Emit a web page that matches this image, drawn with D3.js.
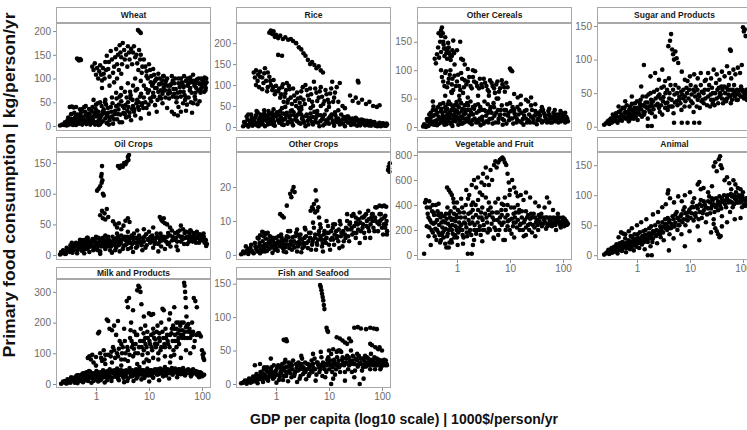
<!DOCTYPE html>
<html>
<head>
<meta charset="utf-8">
<script src="https://cdn.jsdelivr.net/npm/d3@7"></script>
<style>
  body { margin: 0; background: #fff; }
  svg { display: block; font-family: "Liberation Sans", Arial, sans-serif; }
</style>
</head>
<body>
<svg id="chart" width="747" height="430"></svg>
<script>
// Primary food consumption vs GDP per capita, one panel per food group

const facetNames = ["Wheat", "Rice", "Other Cereals", "Sugar and Products",
  "Oil Crops", "Other Crops", "Vegetable and Fruit", "Animal",
  "Milk and Products", "Fish and Seafood"];

// [gdp 1000$/person/yr, kg/person/yr]
const wheat = [[0.21,1],[0.23,3],[0.25,2],[0.27,5],[0.28,1],[0.3,7],[0.31,3],[0.33,10],[0.35,4],[0.36,12],[0.38,6],[0.4,15],[0.42,2],[0.44,9],[0.46,18],[0.48,5],[0.5,12],[0.53,20],[0.55,3],[0.58,14],[0.6,8],[0.63,22],[0.66,4],[0.7,16],[0.73,10],[0.76,25],[0.8,6],[0.84,18],[0.88,12],[0.92,28],[0.96,3],[1,20],[1.05,9],[1.1,30],[1.15,14],[1.2,4],[1.3,24],[1.35,10],[1.4,35],[1.5,16],[1.6,6],[1.7,28],[1.8,12],[1.9,40],[2,20],[2.1,5],[2.3,32],[2.5,14],[2.7,45],[2.9,24],[3.1,8],[3.4,38],[3.7,18],[4,50],[4.3,28],[4.6,12],[5,42],[5.5,22],[6,55],[6.5,34],[7,16],[7.5,48],[8,60],[9,38],[10,26],[11,52],[12,70],[13,44],[14,30],[16,62],[18,48],[20,75],[22,38],[24,58],[27,30],[30,68],[33,50],[36,40],[40,62],[44,48],[48,55],[52,45],[56,60],[62,50],[68,48],[75,56],[82,46],[90,52],
  [0.32,40],[0.35,41],[0.38,39],[0.42,40],[0.5,35],[0.6,40],
  [0.44,142],[0.46,140],[0.48,138],[0.5,141],[0.52,139],
  [0.85,125],[0.9,118],[0.95,132],[1,108],[1.05,122],[1.1,100],[1.15,115],[1.2,128],[1.3,96],[1.4,110],[1.5,135],[1.6,148],[1.7,120],[1.8,104],[1.9,158],[2,140],[2.2,125],[2.4,162],[2.6,150],[2.8,170],[3,145],[3.2,175],[3.4,160],[3.7,150],[4,168],[4.3,140],[4.6,162],[5,155],[5.5,145],[6,132],[6.5,160],[7,150],[7.5,125],[8,140],[9,115],[10,130],[11,105],[12,120],[13,95],[15,110],[17,90],[19,105],[22,100],[25,85],[28,95],[32,78],[36,90],[40,100],[45,82],[50,95],[55,88],[60,102],[66,92],[72,85],[80,98],[88,90],[96,100],[105,95],[115,88],[120,100],
  [6.2,202],[6.6,199],[7,196],
  [2,60],[2.4,70],[2.8,62],[3,80],[3.5,72],[4,90],[4.5,65],[5,85],[5.5,100],[6,78],[7,95],[8,85],[9,105],[10,75],[12,90],[14,80],[16,100],[18,68],[20,88],[24,75],[28,62],[35,70],[45,72],[60,80],[75,70],[95,78],[110,72],
  [30,25],[35,22],[40,30],[50,32],[65,28],[1.5,55],[1.2,50],[1,45],[0.9,55],[2.5,100],[3,110],[1.3,80],[1.8,85],[2.2,92],
  [0.26,8],[0.29,12],[0.34,15],[0.37,2],[0.41,20],[0.45,24],[0.47,13],[0.52,28],[0.56,16],[0.62,30],[0.68,12],[0.72,26],[0.78,3],[0.82,32],[0.9,20],[0.98,36],[1.05,26],[1.12,2],[1.22,18],[1.28,42],[1.45,28],[1.55,45],[1.65,20],[1.75,3],[1.95,30],[2.2,14],[2.4,42],[2.6,25],[2.8,8],[3,52],[3.3,28],[3.6,44],[3.9,32],[4.2,20],[4.5,58],[4.8,36],[5.2,30],[5.8,48],[6.2,40],[6.8,62],[7.3,44],[8.5,50],[9.5,70],[10.5,58],[11.5,85],[12.5,62],[13.5,98],[15,72],[17,58],[19,82],[21,95],[23,68],[26,88],[29,78],[31,100],[34,60],[38,82],[42,92],[47,65],[53,85],[58,92],[64,70],[70,95],[78,80],[85,75],[92,88],[100,82],[108,90],[118,80],[122,92],
  [1.25,108],[1.35,122],[1.45,100],[1.55,118],[1.75,135],[2.1,112],[2.3,145],[2.5,130],[2.7,118],[2.9,155],[3.1,130],[3.5,140],[3.9,125],[4.2,155],[4.8,130],[5.2,168],[5.8,150],[6.3,118],[6.8,140],[7.3,112],[8.5,125],[9.5,100],[10.5,118],[11.5,90],[12.5,108],[14,100],[16,88],[18,96],
  [0.3,18],[0.34,25],[0.39,28],[0.43,6],[0.49,22],[0.54,35],[0.57,10],[0.64,42],[0.69,20],[0.74,36],[0.79,15],[0.86,40],[0.94,8],[1.02,32],[1.08,48],[1.18,22],[1.26,8],[1.33,30],[1.48,50],[1.58,24],[1.68,38],[1.85,18],[2.05,48],[2.25,25],[2.45,58],[2.65,35],[2.95,65],[3.2,42],[3.5,25],[3.8,60],[4.1,40],[4.4,72],[4.9,55],[5.3,35],[5.6,75],[6.4,50],[7.1,68],[7.8,38],[8.8,78],[9.8,45],[10.8,92],[11.8,62],[13,80],[14.5,55],[15.5,88],[16.8,75],[18.5,105],[20.5,60],[22.5,85],[25,70],[27,105],[30,90],[32.5,60],[36,100],[39,72],[43,88],[46,105],[50,60],[54,100],[59,75],[63,95],[68,108],[73,62],[79,90],[86,100],[94,70],[102,96],[112,102],[116,75]];

const rice = [[0.24,2],[0.27,5],[0.3,1],[0.33,8],[0.36,3],[0.4,12],[0.44,4],[0.48,18],[0.52,6],[0.57,25],[0.62,2],[0.68,14],[0.74,30],[0.8,8],[0.88,20],[0.95,3],[1.05,35],[1.15,10],[1.25,22],[1.4,5],[1.55,28],[1.7,12],[1.9,38],[2.1,4],[2.3,18],[2.6,30],[2.9,8],[3.2,24],[3.6,2],[4,15],[4.5,32],[5,6],[5.6,20],[6.2,10],[7,28],[7.8,4],[8.8,16],[10,8],[11,22],[12.5,3],[14,12],[16,6],[18,18],[20,2],[23,10],[26,5],[30,14],[34,3],[38,8],[43,12],[48,4],[55,9],[62,3],[70,7],[80,5],[90,10],[100,4],[110,6],[120,3],
  [0.3,30],[0.45,35],[0.6,40],[0.9,42],[1.3,45],[2,40],[3,42],[4.5,45],[6,38],[9,40],[13,35],[17,30],[22,25],[28,20],[35,18],[45,16],[60,14],
  [0.75,225],[0.8,230],[0.85,222],[0.9,228],[0.95,215],[1,220],[1.1,212],[1.2,218],[1.35,210],[1.5,214],[1.7,208],[1.9,210],[2.1,205],[2.4,200],[2.7,190],[3,185],[3.3,176],[3.6,170],[4,160],[4.4,150],[4.8,155],[5.3,148],[5.8,140],[6.4,145],[7,135],[7.7,130],[1.1,172],[1.3,170],
  [0.38,130],[0.42,135],[0.46,125],[0.5,132],[0.55,118],[0.6,128],[0.65,110],[0.7,95],[0.75,120],[0.8,100],[0.85,88],[0.9,112],[0.95,78],[1,98],[0.42,100],[0.48,95],[0.55,90],
  [1.1,85],[1.2,70],[1.3,95],[1.4,60],[1.5,80],[1.6,105],[1.7,65],[1.8,90],[2,55],[2.2,75],[2.4,50],[2.6,68],[2.8,58],[3,85],[3.3,65],[3.6,100],[4,75],[4.4,92],[4.8,60],[5.2,108],[5.8,82],[6.4,70],[7,95],[7.8,55],[8.6,88],[9.5,65],[10.5,80],[11.5,108],[12.5,70],[14,95],[15,60],[16,105],[18,50],[35,110],[36,106],[25,75],[28,62],[32,70],[36,58],[42,65],[50,55],[58,60],[68,50],[80,48],[90,52],[20,45],[15,40],[10,48],[7,50],[3,48],[1.5,48],
  [0.26,10],[0.29,18],[0.32,14],[0.35,22],[0.38,6],[0.42,28],[0.46,10],[0.5,22],[0.55,14],[0.6,32],[0.65,18],[0.7,6],[0.77,20],[0.84,34],[0.92,12],[1,26],[1.1,16],[1.2,38],[1.3,6],[1.45,18],[1.6,34],[1.8,22],[2,10],[2.2,28],[2.5,14],[2.8,36],[3.1,20],[3.4,10],[3.8,30],[4.2,22],[4.8,12],[5.3,36],[5.9,26],[6.6,2],[7.4,18],[8.3,30],[9.4,10],[10.5,25],[11.8,15],[13.2,28],[15,20],[17,10],[19,24],[21.5,14],[24.5,20],[28,8],[32,22],[36,12],[41,18],[46,8],[52,15],[58,6],[66,12],[75,3],[85,8],[95,2],[105,9],[115,5],[122,8],
  [1.15,92],[1.25,78],[1.35,102],[1.45,72],[1.55,88],[1.65,58],[1.75,98],[1.9,70],[2.1,92],[2.3,62],[2.5,82],[2.7,45],[2.9,70],[3.2,95],[3.5,55],[3.8,88],[4.2,65],[4.6,78],[5,50],[5.5,92],[6,62],[6.7,85],[7.4,72],[8.2,62],[9,78],[10,58],[11,92],[12,60],[13,82],[0.4,118],[0.45,110],[0.5,120],[0.58,105],[0.62,140],[0.7,130],[0.68,85],[0.78,110],[0.88,95],[0.98,85],
  [0.25,12],[0.28,25],[0.31,5],[0.34,30],[0.37,15],[0.41,22],[0.43,38],[0.47,2],[0.51,30],[0.56,8],[0.59,18],[0.64,28],[0.69,22],[0.72,38],[0.79,14],[0.86,26],[0.9,5],[0.97,30],[1.08,18],[1.17,28],[1.28,14],[1.36,32],[1.5,20],[1.65,8],[1.85,28],[1.95,16],[2.15,35],[2.4,24],[2.7,10],[3,30],[3.3,15],[3.7,26],[4.1,6],[4.4,20],[5,24],[5.5,12],[6.1,30],[6.9,14],[7.7,24],[8.5,8],[9.8,20],[11.2,30],[12,10],[13.8,20],[16,14],[18.5,8],[20.5,18],[23,25],[26.5,12],[30.5,6],[34,16],[39,4],[44,10],[50,14],[56,4],[64,8],[72,12],[82,2],[92,6],[102,8],[112,3],[125,6]];

const otherCereals = [[0.23,1],[0.26,0],[0.29,2],[0.3,15],[0.32,25],[0.34,5],[0.36,20],[0.38,10],[0.4,30],[0.42,3],[0.45,18],[0.48,40],[0.5,8],[0.53,25],[0.56,12],[0.6,35],[0.63,5],[0.66,22],[0.7,45],[0.74,15],[0.78,30],[0.82,2],[0.86,20],[0.9,38],[0.95,10],[1,28],[1.06,4],[1.12,48],[1.2,18],[1.28,32],[1.36,8],[1.45,24],[1.55,42],[1.65,14],[1.75,30],[1.9,5],[2,22],[2.2,38],[2.4,12],[2.6,28],[2.8,3],[3,18],[3.3,45],[3.6,10],[3.9,25],[4.3,35],[4.7,6],[5.1,20],[5.6,50],[6.1,14],[6.7,30],[7.3,4],[8,22],[8.8,40],[9.6,12],[10.5,28],[11.5,6],[12.6,18],[13.8,35],[15,10],[16.5,25],[18,4],[20,15],[22,45],[24,8],[26,30],[29,20],[32,5],[35,25],[38,12],[42,30],[46,18],[50,8],[55,22],[60,15],[66,25],[72,10],[80,20],[88,14],[96,24],[105,12],[115,18],[124,10],
  [0.38,120],[0.4,112],[0.42,128],[0.44,140],[0.46,122],[0.48,150],[0.5,132],[0.52,175],[0.54,165],[0.56,145],[0.58,125],[0.6,158],[0.62,138],[0.65,120],[0.68,148],[0.72,130],[0.76,118],[0.8,125],[0.85,152],[0.9,110],[1,135],[1.15,150],[1.2,120],[1.3,118],[1.4,110],[0.45,165],[0.5,170],
  [0.5,100],[0.55,80],[0.6,95],[0.65,70],[0.7,85],[0.75,100],[0.8,75],[0.85,65],[0.9,90],[1,80],[1.1,72],[1.2,95],[1.3,60],[1.4,82],[1.5,75],[1.7,88],[1.9,68],[2.1,80],[2.4,72],[2.7,85],[3,70],[3.4,78],[3.8,65],[4.2,82],[4.7,72],[5.2,60],[5.8,80],[6.5,68],[7.2,75],[8,62],[9,70],[10,103],[10.5,100],[11,98],[12,58],[14,52],[16,55],[1.6,102],[2,100],[2.2,98],[1.1,55],[1.6,52],[2.5,55],[4,55],[6,50],[20,48],[25,52],[30,40],[40,35],[55,32],[70,30],[90,28],[110,25],[0.35,45],[0.6,55],[0.8,60],
  [0.25,3],[0.28,10],[0.31,6],[0.33,18],[0.35,30],[0.37,4],[0.39,22],[0.41,12],[0.44,35],[0.46,6],[0.5,28],[0.52,15],[0.55,42],[0.58,4],[0.62,18],[0.65,32],[0.68,10],[0.72,26],[0.76,40],[0.8,8],[0.84,30],[0.88,14],[0.93,25],[0.98,44],[1.03,16],[1.09,35],[1.15,6],[1.23,28],[1.32,15],[1.4,38],[1.5,10],[1.6,30],[1.7,20],[1.8,45],[1.95,12],[2.1,32],[2.3,8],[2.5,40],[2.7,15],[2.9,30],[3.2,6],[3.5,28],[3.8,40],[4.1,14],[4.5,25],[4.9,42],[5.3,8],[5.9,30],[6.4,20],[7,38],[7.7,12],[8.4,30],[9.2,20],[10,42],[11,15],[12,30],[13.2,8],[14.5,22],[16,40],[17.5,14],[19,28],[21,8],[23,22],[25,38],[27.5,14],[30,28],[33,12],[37,20],[40,8],[44,24],[48,14],[53,28],[58,8],[63,18],[70,20],[76,14],[84,22],[92,10],[100,18],[110,8],[120,15],
  [0.52,88],[0.58,72],[0.62,98],[0.68,78],[0.73,92],[0.78,62],[0.82,85],[0.95,72],[1.05,92],[1.15,65],[1.25,85],[1.35,70],[1.6,80],[1.8,72],[2,88],[2.3,78],[2.6,68],[2.9,75],[3.2,85],[3.6,72],[4,62],[4.5,78],[5,68],[5.5,75],[6.2,62],[7,82],[7.8,70],[8.5,78],[0.5,160],[0.55,150],[0.57,138],[0.63,130],[0.66,135],[0.7,140],[0.75,125],[0.82,135],[0.88,130],
  [0.24,5],[0.27,14],[0.3,22],[0.33,10],[0.36,36],[0.4,8],[0.43,25],[0.47,14],[0.51,32],[0.54,20],[0.57,8],[0.61,28],[0.64,15],[0.67,40],[0.71,20],[0.75,6],[0.79,22],[0.83,36],[0.87,12],[0.92,30],[0.97,18],[1.02,38],[1.08,24],[1.14,12],[1.2,42],[1.26,6],[1.34,22],[1.43,30],[1.52,15],[1.62,38],[1.72,8],[1.85,25],[2,35],[2.15,15],[2.35,25],[2.55,8],[2.75,35],[3,12],[3.25,30],[3.55,20],[3.9,8],[4.2,30],[4.6,15],[5,35],[5.5,25],[6,8],[6.6,22],[7.2,14],[7.9,30],[8.6,6],[9.4,25],[10.2,15],[11.2,35],[12.2,24],[13.5,14],[15,30],[16.5,8],[18.5,20],[20.5,30],[22.5,12],[25,18],[28,8],[31,22],[34,15],[38,28],[42,10],[47,20],[52,12],[57,18],[62,8],[68,14],[75,22],[82,8],[90,16],[98,12],[108,20],[118,12]];

const sugar = [[0.24,3],[0.26,5],[0.28,8],[0.3,4],[0.32,12],[0.34,7],[0.36,15],[0.38,10],[0.4,20],[0.43,6],[0.46,14],[0.49,24],[0.52,9],[0.55,18],[0.58,28],[0.62,12],[0.66,22],[0.7,8],[0.74,30],[0.78,16],[0.82,25],[0.87,12],[0.92,35],[0.97,20],[1.03,10],[1.1,28],[1.17,40],[1.24,15],[1.32,32],[1.4,22],[1.5,45],[1.6,12],[1.7,30],[1.8,50],[1.9,20],[2,38],[2.2,15],[2.4,55],[2.6,28],[2.8,42],[3,18],[3.2,60],[3.5,35],[3.8,25],[4.1,50],[4.5,40],[4.9,20],[5.3,62],[5.8,32],[6.3,45],[6.9,25],[7.5,55],[8.2,38],[9,68],[9.8,30],[10.7,48],[11.7,22],[12.8,60],[14,40],[15.3,28],[16.7,52],[18.2,35],[20,70],[22,45],[24,30],[26,58],[28,40],[31,65],[34,35],[37,50],[40,42],[44,60],[48,38],[52,55],[57,45],[62,40],[68,62],[74,48],[80,40],[88,55],[96,45],[105,42],[115,50],
  [1.35,92],[1.8,75],[2.2,80],[2.6,70],[3,85],[3.4,68],[3.9,120],[4.2,128],[4.4,138],[4.6,115],[4.8,108],[5,100],[5.3,112],[5.6,102],[6,95],[4,72],[7,82],[8,70],[10,75],[12,78],[14,72],[16,80],[19,68],[22,80],[25,72],[28,85],[32,78],[36,70],[40,82],[45,75],[50,90],[55,80],[60,72],[66,85],[72,78],[80,88],[88,80],[95,92],[57,115],[59,113],[100,148],[104,142],[108,145],[112,135],[1.2,60],[0.8,45],[0.6,38],[0.45,30],
  [1.6,1],[1.9,1],[5,6],[7,6],[9,6],[12,6],[15,6],
  [0.3,10],[0.33,6],[0.35,18],[0.39,14],[0.42,8],[0.45,22],[0.48,12],[0.51,18],[0.54,28],[0.57,14],[0.6,22],[0.64,32],[0.68,16],[0.72,26],[0.76,12],[0.8,34],[0.85,20],[0.9,28],[0.95,15],[1,38],[1.07,22],[1.14,34],[1.2,26],[1.28,45],[1.36,18],[1.45,36],[1.55,28],[1.65,48],[1.75,22],[1.85,40],[1.95,30],[2.1,52],[2.3,32],[2.5,45],[2.7,22],[2.9,58],[3.1,38],[3.4,28],[3.7,55],[4,30],[4.3,62],[4.7,30],[5.1,48],[5.6,38],[6.1,58],[6.6,35],[7.2,48],[7.9,30],[8.6,58],[9.4,42],[10.3,62],[11.2,35],[12.2,52],[13.4,30],[14.6,48],[16,62],[17.4,40],[19,55],[21,32],[23,62],[25,40],[27,50],[29,32],[33,55],[36,45],[39,60],[42,35],[46,50],[50,42],[54,62],[59,35],[64,55],[70,45],[77,55],[84,48],[92,60],[100,52],[110,45],[118,40],
  [0.36,8],[0.41,16],[0.47,10],[0.53,14],[0.59,20],[0.65,14],[0.71,20],[0.77,24],[0.83,16],[0.89,26],[0.94,22],[1.02,28],[1.12,18],[1.22,32],[1.32,22],[1.42,30],[1.58,36],[1.72,24],[1.88,34],[2.05,26],[2.25,42],[2.45,34],[2.65,48],[2.85,32],[3.15,44],[3.45,50],[3.75,36],[4.05,42],[4.4,30],[4.8,55],[5.2,36],[5.7,50],[6.2,40],[6.8,52],[7.4,42],[8,45],[8.8,50],[9.6,55],[10.5,38],[11.5,55],[12.5,45],[13.8,55],[15,45],[16.5,38],[18,50],[19.5,42],[22,55],[24.5,48],[27,35],[30,50],[32,42],[35,58],[38,48],[41,55],[45,40],[49,58],[53,48],[58,55],[63,48],[69,52],[75,40],[82,50],[90,45],[98,55],[108,48],[116,55]];

const oilCrops = [[0.21,1],[0.23,3],[0.25,6],[0.27,2],[0.3,10],[0.32,5],[0.35,14],[0.38,8],[0.41,18],[0.44,3],[0.47,12],[0.5,22],[0.54,7],[0.58,16],[0.62,25],[0.66,10],[0.7,20],[0.75,5],[0.8,14],[0.86,26],[0.92,9],[0.98,18],[1.05,12],[1.12,28],[1.2,6],[1.3,16],[1.4,24],[1.5,10],[1.6,20],[1.7,30],[1.85,8],[2,18],[2.2,26],[2.4,12],[2.6,22],[2.8,6],[3,32],[3.3,15],[3.6,24],[4,10],[4.4,28],[4.8,18],[5.2,35],[5.7,12],[6.2,26],[6.8,20],[7.5,8],[8.2,30],[9,16],[10,38],[11,22],[12,12],[13.5,28],[15,18],[16.5,35],[18,24],[20,10],[22,30],[24,20],[27,40],[30,25],[33,14],[36,32],[40,22],[44,42],[48,28],[53,18],[58,35],[64,25],[70,30],[77,20],[85,32],[93,24],[102,30],[112,20],[120,15],
  [0.35,20],[0.5,25],[0.7,28],[1,30],[1.5,32],[2.5,35],[4,38],[6,40],[8,42],[12,45],[25,45],[40,48],[60,40],[80,38],[100,32],[0.6,3],[1.2,2],[2,4],[5,5],[15,6],[35,8],
  [1.05,105],[1.12,108],[1.2,112],[1.25,128],[1.28,132],[1.3,145],[1.32,122],[1.35,100],[1.4,97],[1.28,118],
  [2.6,145],[2.8,142],[3,146],[3.2,144],[3.4,150],[3.6,148],[3.8,152],[4,160],[4.2,163],[4.1,155],
  [1.2,65],[1.3,72],[1.35,60],[1.45,68],[1.5,58],[1.6,75],[1.7,62],
  [2.1,55],[2.3,50],[2.5,45],[2.7,52],[3,42],[3.3,48],[3.6,56],[4,60],[4.3,54],
  [16,62],[17,58],[18,55],[19,60],[20,52],[22,50],
  [0.22,5],[0.24,8],[0.26,2],[0.28,12],[0.31,7],[0.33,16],[0.36,4],[0.39,12],[0.42,20],[0.45,8],[0.48,16],[0.52,12],[0.56,24],[0.6,10],[0.64,18],[0.68,28],[0.72,12],[0.77,22],[0.83,16],[0.89,8],[0.95,22],[1.01,16],[1.08,8],[1.16,22],[1.25,14],[1.35,28],[1.45,18],[1.55,26],[1.65,14],[1.78,24],[1.92,14],[2.1,22],[2.3,8],[2.5,28],[2.7,16],[2.9,25],[3.2,10],[3.5,30],[3.8,18],[4.2,24],[4.6,12],[5,28],[5.5,20],[6,14],[6.5,32],[7.1,22],[7.8,28],[8.6,12],[9.5,25],[10.5,20],[11.5,32],[12.8,18],[14,35],[15.5,28],[17,14],[19,30],[21,22],[23,36],[25.5,14],[28,30],[31,36],[34,22],[38,40],[42,30],[46,18],[50,38],[55,28],[61,40],[67,22],[73,35],[80,28],[88,20],[97,26],[107,35],[116,25],[124,18],
  [0.29,8],[0.34,10],[0.4,15],[0.46,18],[0.51,15],[0.57,20],[0.63,14],[0.69,24],[0.74,16],[0.81,20],[0.88,14],[0.96,26],[1.04,20],[1.14,16],[1.22,26],[1.32,20],[1.42,14],[1.52,22],[1.62,28],[1.74,18],[1.88,22],[2.05,30],[2.25,16],[2.45,20],[2.65,30],[2.95,20],[3.25,26],[3.55,16],[3.9,30],[4.3,20],[4.7,32],[5.1,22],[5.6,28],[6.1,20],[6.7,28],[7.3,16],[8,22],[8.8,34],[9.7,26],[10.7,30],[11.8,26],[13,22],[14.5,30],[16,22],[17.5,30],[20,28],[22.5,18],[25,32],[27.5,24],[32,28],[35,38],[39,30],[43,26],[47,36],[52,30],[57,22],[63,30],[69,36],[75,26],[83,28],[91,34],[100,24],[108,30],[118,24]];

const otherCrops = [[0.22,0.2],[0.25,0.5],[0.28,1.2],[0.3,0.3],[0.33,2],[0.36,0.8],[0.4,3.5],[0.43,1.5],[0.47,4.8],[0.5,0.5],[0.54,2.5],[0.58,5.5],[0.62,1],[0.66,3.2],[0.7,6.5],[0.75,1.8],[0.8,4],[0.86,0.6],[0.92,2.8],[1,5],[1.08,1.2],[1.16,3.5],[1.25,6],[1.35,2],[1.45,4.5],[1.55,0.8],[1.7,3],[1.85,7],[2,1.5],[2.2,4],[2.4,6.5],[2.6,2.5],[2.8,5],[3,0.8],[3.3,3.5],[3.6,7.5],[4,2],[4.4,5],[4.8,3],[5.2,8],[5.7,1.5],[6.2,4.5],[6.8,9],[7.4,2.5],[8,6],[8.8,3.5],[9.6,8.5],[10.5,1.5],[11.5,5],[12.5,3],[13.7,7],[15,4],[16.5,9],[18,2.5],[20,6],[22,10],[24,4],[26,7.5],[29,12],[32,5],[35,9],[38,3.5],[42,11],[46,6.5],[50,12],[55,8],[60,5],[66,10],[72,7],[80,14],[88,9],[95,12],[105,6],[115,8],[125,7],
  [0.55,6.8],[0.6,6.5],[0.65,6.2],[0.5,5.8],[0.45,5],[1.7,7],[2.5,7.5],[3.5,8],[5,9.5],[7,8],[9,10],[12,9],[16,10],[22,12],[27,11.5],[32,11],[38,12.5],[45,11],[55,13],[65,12],[75,14],[90,14.5],[100,14.3],[110,14.5],[120,14.2],
  [1.85,18],[1.95,17],[2.05,19],[2.15,20],[2.25,18.5],[1.6,14.5],[1.3,11.5],[1.4,11],[1.2,12],
  [4.5,13],[4.8,14],[5,13.5],[5.2,15],[5.5,12.5],[5.8,16],[6,13],[6.3,14],[5.6,19],[6.5,11],
  [130,25],[134,26],[138,24.5],[140,27],[136,25.5],
  [0.24,1],[0.27,2.5],[0.31,1],[0.34,3],[0.38,0.5],[0.41,2.5],[0.45,1],[0.49,3.5],[0.52,1.5],[0.56,4],[0.6,2],[0.64,4.8],[0.68,1.2],[0.72,3.5],[0.77,5.5],[0.83,2.2],[0.89,4.5],[0.95,1.5],[1.04,3.2],[1.12,5.5],[1.2,2.5],[1.3,4],[1.4,1],[1.5,3],[1.6,5.5],[1.78,2],[1.92,4],[2.1,2.8],[2.3,5.5],[2.5,1],[2.7,3.8],[2.9,6],[3.15,2],[3.45,5],[3.8,3.5],[4.2,6.5],[4.6,1.5],[5,4.5],[5.5,6],[6,3],[6.5,7],[7.1,4.5],[7.7,1],[8.4,4.5],[9.2,6.5],[10,3],[11,7],[12,4.5],[13,9],[14.3,5.5],[15.7,2],[17.2,6.5],[19,4],[21,8],[23,5.5],[25,9.5],[27.5,6],[30,8.5],[33,6.5],[36,10.5],[40,7],[44,9],[48,5],[52,10],[57,7],[63,11],[69,8],[76,10],[84,7],[92,10],[100,8],[110,11],[118,9],[124,6],
  [0.3,1.8],[0.35,1.2],[0.42,2],[0.48,2.5],[0.55,1],[0.61,3],[0.67,2.5],[0.73,4.5],[0.79,3],[0.87,5],[0.93,3.5],[1.02,2],[1.1,4],[1.18,2.8],[1.28,5],[1.38,3.2],[1.48,2.2],[1.58,4.2],[1.72,5.2],[1.88,3],[2.05,5.2],[2.25,2.2],[2.45,3.5],[2.65,5.8],[2.85,3.2],[3.1,4.5],[3.4,2.5],[3.7,5.5],[4.1,4],[4.5,6.5],[4.9,3.8],[5.4,5],[5.9,3.5],[6.4,6],[7,5.5],[7.6,3.5],[8.2,7],[9,5],[9.9,6.5],[10.8,4.5],[11.8,8],[12.8,6],[14,5],[15.3,7.5],[16.8,5.5],[18.5,7],[20.5,5],[22.5,7.5],[24.5,9],[27,8],[29.5,6.5],[32.5,9.5],[35.5,7.5],[39,9.5],[43,8],[47,11.5],[51,8.5],[56,10.5],[61,9],[67,12],[74,11],[82,9.5],[90,12],[98,10.5],[108,9],[116,11.5],[122,10]];

const vegFruit = [[0.24,10],[0.25,420],[0.27,380],[0.29,300],[0.3,220],[0.32,80],[0.34,350],[0.36,250],[0.38,150],[0.4,400],[0.42,280],[0.45,180],[0.48,100],[0.5,330],[0.53,220],[0.56,140],[0.6,260],[0.63,60],[0.66,380],[0.7,200],[0.74,300],[0.78,120],[0.82,240],[0.87,420],[0.92,160],[0.97,320],[1.03,80],[1.1,260],[1.17,200],[1.25,380],[1.33,140],[1.42,300],[1.5,220],[1.6,10],[1.62,450],[1.7,180],[1.8,340],[1.9,10],[1.95,260],[2.1,120],[2.25,400],[2.4,200],[2.6,300],[2.8,160],[3,380],[3.2,240],[3.5,460],[3.8,180],[4.1,320],[4.5,250],[4.9,140],[5.3,420],[5.8,280],[6.3,200],[6.9,360],[7.5,120],[8.2,300],[9,230],[9.8,480],[10.7,170],[11.7,330],[12.8,260],[14,400],[15.3,200],[16.7,300],[18.2,150],[20,350],[22,240],[24,290],[26,180],[28,330],[31,260],[34,200],[37,300],[40,230],[44,280],[48,210],[52,250],[57,300],[62,230],[68,260],[74,200],[80,280],[88,240],[96,270],[105,230],[115,260],[124,250],
  [0.7,520],[0.75,500],[0.8,480],[0.85,450],[0.65,540],
  [1.5,520],[1.7,480],[1.9,560],[2.1,600],[2.3,540],[2.5,620],[2.7,500],[2.9,580],[3.1,650],[3.3,560],[3.5,700],[3.7,620],[4,560],[4.3,680],[4.6,600],[5,720],[5.3,750],[5.6,700],[6,740],[6.4,760],[6.8,770],[7.2,780],[7.6,765],[8,740],[8.5,720],[9,650],[9.5,580],[10,520],[11,600],[12,540],[13,500],[14,470],[16,480],[18,440],[20,500],[24,460],[30,420],[35,390],[45,380],[50,460],[55,420],[65,360],[80,330],[100,300],[110,280],
  [0.26,440],[0.3,430],[0.35,400],[0.45,410],[0.9,380],[1,420],[1.2,450],[2,420],[2.5,440],[3,480],[4,420],[6,450],[7,410],[8,460],[9,400],[12,380],[15,360],[0.5,120],[0.6,90],[0.7,60],[0.8,100],[1,140],[1.3,90],[2,80],[3,110],[5,130],[8,120],[12,140],[20,160],[30,150],
  [0.27,230],[0.29,150],[0.31,380],[0.33,260],[0.35,180],[0.37,320],[0.39,210],[0.41,120],[0.43,350],[0.46,240],[0.49,300],[0.52,160],[0.55,270],[0.58,200],[0.62,330],[0.65,150],[0.68,250],[0.72,100],[0.76,350],[0.8,200],[0.84,290],[0.89,140],[0.94,230],[1,300],[1.06,180],[1.13,340],[1.2,240],[1.28,160],[1.37,260],[1.46,400],[1.55,150],[1.66,280],[1.77,200],[1.88,400],[2,300],[2.15,240],[2.3,170],[2.5,360],[2.7,230],[2.9,300],[3.1,200],[3.4,330],[3.7,260],[4,210],[4.3,380],[4.7,300],[5.1,220],[5.5,340],[6,160],[6.5,300],[7,240],[7.6,400],[8.3,200],[9,320],[9.8,280],[10.5,380],[11.4,230],[12.4,300],[13.5,220],[14.7,340],[16,250],[17.5,200],[19,280],[21,300],[23,200],[25,330],[27,240],[30,300],[33,240],[36,270],[39,330],[43,250],[47,300],[51,230],[56,280],[61,260],[66,300],[72,240],[78,260],[85,300],[92,250],[100,280],[108,260],[118,240],
  [0.28,330],[0.31,280],[0.33,200],[0.36,340],[0.39,260],[0.42,200],[0.44,320],[0.47,160],[0.51,260],[0.54,180],[0.57,310],[0.61,210],[0.64,290],[0.67,170],[0.71,330],[0.75,230],[0.79,280],[0.83,170],[0.88,330],[0.93,270],[0.98,200],[1.04,360],[1.11,220],[1.18,300],[1.26,200],[1.35,340],[1.44,250],[1.53,180],[1.64,330],[1.75,250],[1.86,160],[1.98,360],[2.12,200],[2.28,320],[2.45,260],[2.62,200],[2.85,340],[3.05,280],[3.3,200],[3.6,300],[3.9,360],[4.2,200],[4.6,340],[5,280],[5.4,200],[5.9,340],[6.4,260],[7,320],[7.6,260],[8.3,360],[9.1,270],[9.9,200],[10.8,290],[11.8,260],[12.9,340],[14.1,280],[15.4,240],[16.8,350],[18.3,260],[20,220],[22,320],[24,250],[26,300],[29,220],[32,280],[35,320],[38,250],[42,300],[46,260],[50,300],[55,240],[60,290],[65,240],[71,280],[77,300],[84,260],[91,220],[99,260],[107,290],[116,270]];

const animal = [[0.24,1],[0.26,3],[0.28,6],[0.3,2],[0.32,8],[0.34,4],[0.36,11],[0.38,6],[0.4,14],[0.43,3],[0.46,9],[0.49,17],[0.52,7],[0.55,12],[0.58,20],[0.62,5],[0.66,15],[0.7,25],[0.74,10],[0.78,18],[0.82,30],[0.87,8],[0.92,22],[0.97,14],[1.03,35],[1.1,12],[1.17,26],[1.24,18],[1.32,40],[1.4,10],[1.5,30],[1.6,22],[1.7,45],[1.8,15],[1.9,35],[2,28],[2.2,50],[2.4,20],[2.6,40],[2.8,30],[3,55],[3.2,25],[3.5,45],[3.8,62],[4.1,35],[4.5,52],[4.9,28],[5.3,68],[5.8,42],[6.3,58],[6.9,35],[7.5,75],[8.2,50],[9,65],[9.8,40],[10.7,80],[11.7,58],[12.8,70],[14,48],[15.3,85],[16.7,62],[18.2,75],[20,55],[22,90],[24,70],[26,82],[28,60],[31,95],[34,75],[37,88],[40,65],[44,100],[48,80],[52,92],[57,72],[62,98],[68,85],[74,105],[80,88],[88,95],[96,80],[105,92],[115,85],
  [0.45,30],[0.5,38],[0.55,36],[0.6,35],[0.7,40],[0.8,45],[1,50],[1.2,55],[1.5,60],[2,68],[2.5,72],[3,80],[3.5,85],[3.8,103],[3.9,108],[4.2,95],[5,88],[6,98],[7,90],[8,100],[10,105],[12,95],[14,118],[15,122],[16,110],[18,112],[22,105],[26,115],[28,148],[30,155],[32,140],[35,160],[37,165],[38,150],[40,145],[45,125],[50,130],[55,120],[60,110],[66,125],[72,118],[80,112],[90,110],[100,105],
  [30,45],[32,40],[34,35],[36,30],[38,32],[40,48],[28,52],[1.6,0],[1.9,0],[4,8],[8,15],[15,25],[25,38],[50,55],[70,60],[90,62],
  [0.27,4],[0.29,9],[0.31,5],[0.33,12],[0.35,7],[0.37,14],[0.39,9],[0.41,18],[0.44,10],[0.47,20],[0.5,12],[0.53,22],[0.56,16],[0.6,28],[0.64,12],[0.68,22],[0.72,18],[0.76,32],[0.8,14],[0.85,25],[0.9,35],[0.95,18],[1,28],[1.06,20],[1.13,38],[1.2,24],[1.28,32],[1.36,22],[1.45,42],[1.55,26],[1.65,36],[1.75,28],[1.85,48],[1.95,22],[2.1,40],[2.3,32],[2.5,55],[2.7,35],[2.9,45],[3.1,38],[3.4,60],[3.7,42],[4,55],[4.3,45],[4.7,65],[5.1,48],[5.6,72],[6.1,50],[6.6,65],[7.2,55],[7.9,80],[8.6,60],[9.4,72],[10.3,62],[11.2,88],[12.2,68],[13.4,82],[14.6,60],[16,92],[17.4,70],[19,85],[21,68],[23,98],[25,78],[27,92],[29,72],[33,85],[36,98],[39,78],[42,90],[46,85],[50,98],[54,88],[59,102],[64,80],[70,95],[77,88],[84,100],[92,90],[100,95],[110,82],[118,92],
  [0.29,4],[0.33,6],[0.37,9],[0.41,8],[0.45,14],[0.49,10],[0.54,16],[0.59,14],[0.64,20],[0.69,16],[0.75,22],[0.81,20],[0.86,18],[0.93,26],[0.99,22],[1.07,28],[1.15,24],[1.23,30],[1.32,26],[1.42,34],[1.52,28],[1.62,32],[1.73,36],[1.85,30],[2,40],[2.15,36],[2.35,42],[2.55,36],[2.75,48],[2.95,40],[3.2,48],[3.5,52],[3.8,48],[4.1,58],[4.5,46],[4.9,60],[5.3,54],[5.8,62],[6.3,50],[6.9,68],[7.5,60],[8.2,70],[9,58],[9.8,76],[10.7,70],[11.7,80],[12.8,64],[14,78],[15.3,72],[16.7,82],[18.2,90],[20,80],[22,78],[24,88],[26,95],[28,85],[31,80],[34,90],[37,82],[40,95],[44,88],[48,92],[52,100],[57,90],[62,88],[68,100],[74,92],[80,98],[88,88],[96,100],[105,85],[115,95]];

const milk = [[0.22,1],[0.25,5],[0.28,2],[0.3,12],[0.33,4],[0.36,18],[0.39,8],[0.42,25],[0.45,3],[0.49,15],[0.53,30],[0.57,6],[0.61,20],[0.66,38],[0.71,10],[0.76,26],[0.82,4],[0.88,35],[0.95,14],[1.02,42],[1.1,8],[1.18,28],[1.27,18],[1.36,45],[1.46,5],[1.57,32],[1.69,20],[1.82,48],[1.96,10],[2.1,36],[2.3,24],[2.5,50],[2.7,12],[2.9,40],[3.1,28],[3.4,6],[3.7,45],[4,18],[4.3,52],[4.7,32],[5.1,10],[5.6,42],[6.1,24],[6.6,55],[7.2,15],[7.8,38],[8.5,28],[9.3,50],[10.1,8],[11,35],[12,20],[13,48],[14.2,30],[15.5,12],[17,42],[18.5,25],[20,55],[22,35],[24,18],[26,45],[28,30],[31,50],[34,22],[37,40],[40,32],[44,52],[48,28],[52,45],[57,35],[62,25],[68,48],[74,38],[80,30],[88,22],[96,32],[105,28],
  [0.7,85],[0.75,90],[0.8,80],[0.85,95],[0.9,70],[1,88],[1.1,165],[1.15,170],[1.2,100],[1.3,75],[1.4,110],[1.5,95],[1.6,210],[1.7,205],[1.8,180],[1.9,90],[2,175],[2.1,120],[2.2,190],[2.4,160],[2.5,100],[2.6,205],[2.8,140],[3,80],[3.2,120],[3.4,180],[3.6,100],[3.8,270],[4,250],[4.2,280],[4.4,150],[4.6,200],[4.8,120],[5,90],[5.3,170],[5.6,130],[6,305],[6.3,320],[6.6,315],[6.9,300],[7.2,260],[7.5,140],[8,110],[8.5,190],[9,80],[9.5,150],[10,230],[11,225],[12,228],[13,130],[14,170],[15,100],[16,140],[17,200],[18,245],[19,240],[20,120],[22,160],[24,210],[25,230],[26,90],[28,140],[30,180],[33,120],[36,200],[40,160],[43,175],[46,330],[47,320],[48,300],[49,280],[50,250],[51,220],[52,190],[55,170],[60,150],[65,200],[70,280],[75,270],[80,250],[85,165],[90,160],[95,155],[100,110],[103,95],[106,85],[108,100],[110,78],
  [1,60],[1.5,65],[2,70],[3,60],[4,75],[6,65],[8,70],[10,75],[12,85],[15,80],[20,90],[25,70],[30,95],[40,85],[50,110],[60,100],[70,120],[5,240],[8,220],[12,180],[30,250],[35,140],
  [0.24,8],[0.27,3],[0.29,15],[0.32,8],[0.34,22],[0.37,12],[0.4,4],[0.43,18],[0.47,28],[0.51,10],[0.55,22],[0.59,35],[0.63,12],[0.68,28],[0.73,18],[0.78,40],[0.84,20],[0.9,10],[0.97,30],[1.05,22],[1.13,38],[1.22,12],[1.31,30],[1.41,22],[1.52,40],[1.63,12],[1.75,28],[1.88,38],[2,20],[2.2,45],[2.4,30],[2.6,18],[2.8,35],[3,45],[3.3,20],[3.6,32],[3.9,10],[4.2,38],[4.5,25],[4.9,45],[5.4,30],[5.8,18],[6.3,40],[6.9,32],[7.5,45],[8.2,20],[8.9,38],[9.7,28],[10.5,45],[11.5,25],[12.5,38],[13.7,42],[15,32],[16.3,50],[17.8,32],[19.3,42],[21,28],[23,45],[25,35],[27,52],[29.5,38],[32,45],[35,32],[38.5,48],[42,40],[46,32],[50,42],[55,48],[60,40],[65,32],[71,42],[78,35],[85,28],[93,38],[100,25],[110,30],
  [2.2,110],[2.6,90],[3,130],[3.5,140],[4,110],[4.5,175],[5,130],[5.5,100],[6,160],[6.5,120],[7,180],[7.5,95],[8,140],[8.5,150],[9,120],[9.5,100],[10.5,130],[11,160],[11.5,110],[12.5,150],[13.5,120],[14.5,190],[15.5,150],[16.5,110],[18,170],[19.5,130],[21,150],[23,130],[25,160],[27,180],[29,110],[31,140],[33,200],[35,165],[37,130],[39,190],[42,150],[45,200],[48,170],[53,150],[58,180],[63,160],[68,170],[73,140],[78,160],[88,165],
  [0.26,10],[0.3,6],[0.35,12],[0.38,20],[0.41,12],[0.44,28],[0.48,20],[0.52,12],[0.56,34],[0.6,26],[0.65,16],[0.7,30],[0.74,42],[0.8,22],[0.86,30],[0.92,20],[0.99,36],[1.07,28],[1.15,18],[1.24,38],[1.33,26],[1.43,35],[1.55,22],[1.66,42],[1.78,30],[1.92,22],[2.05,42],[2.25,32],[2.45,40],[2.65,28],[2.85,45],[3.05,35],[3.35,42],[3.65,25],[3.95,38],[4.4,42],[4.8,25],[5.3,38],[5.7,48],[6.2,35],[6.8,45],[7.4,30],[8,45],[8.7,38],[9.5,42],[10.3,32],[11.2,45],[12.2,35],[13.3,40],[14.6,48],[16,40],[17.5,35],[19,48],[20.8,40],[22.6,48],[24.6,42],[26.8,38],[30,42],[33,38],[36,48],[40,45],[44,38],[48,42],[53,38],[58,45],[64,38],[70,35],[76,42],[83,40],[91,30],[98,35],
  [1.25,85],[1.45,80],[1.7,95],[1.95,105],[2.3,85],[2.7,115],[3.1,100],[3.5,80],[3.9,120],[4.3,95],[4.7,140],[5.2,115],[5.7,160],[6.2,100],[6.8,140],[7.3,120],[7.9,165],[8.6,130],[9.3,170],[10.2,140],[11.2,120],[12.2,165],[13.2,145],[14.3,130],[15.7,165],[17,120],[18.6,150],[20.5,180],[22.5,140],[24.5,120],[26.5,165],[28.5,190],[31,160],[33,180],[36,150],[38,175],[41,200],[44,160],[47,150],[50,185],[55,195],[60,170],[66,160]];

const fish = [[0.22,1],[0.25,3],[0.28,0.5],[0.3,6],[0.33,2],[0.36,9],[0.39,4],[0.42,12],[0.45,1],[0.49,7],[0.53,15],[0.57,3],[0.61,10],[0.66,20],[0.71,5],[0.76,14],[0.82,25],[0.88,8],[0.95,18],[1.02,2],[1.1,28],[1.18,11],[1.27,22],[1.36,6],[1.46,32],[1.57,15],[1.69,4],[1.82,26],[1.96,10],[2.1,35],[2.3,18],[2.5,3],[2.7,28],[2.9,12],[3.1,38],[3.4,20],[3.7,7],[4,30],[4.3,15],[4.7,35],[5.1,24],[5.6,5],[6.1,32],[6.6,18],[7.2,40],[7.8,26],[8.5,10],[9.3,36],[10.1,22],[11,45],[12,30],[13,14],[14.2,40],[15.5,25],[17,48],[18.5,32],[20,18],[22,42],[24,28],[26,50],[28,35],[31,20],[34,45],[37,30],[40,38],[44,25],[48,42],[52,32],[57,28],[62,45],[68,35],[74,22],[80,38],[88,30],[96,25],[105,32],[115,28],[122,30],
  [0.4,28],[0.5,30],[0.6,25],[0.8,38],[1.5,36],[3,42],[5,45],[7,48],[9,30],[12,8],[20,5],[15,50],[30,10],[45,8],[38,0],[11,0],
  [6.8,148],[7,145],[7.2,140],[7.4,135],[7.6,130],[7.8,125],[8,118],[8.2,112],[9,84],[9.3,80],[9.6,78],
  [1.4,66],[1.5,65],[1.6,64],[1.55,67],
  [14,70],[16,68],[18,65],[20,62],[22,60],[24,68],[26,64],
  [30,84],[35,85],[40,83],[50,82],[60,84],[70,83],[80,82],
  [10,50],[12,52],[14,48],[16,50],[60,60],[65,58],[75,55],[85,52],[90,55],[100,50],[110,36],[118,30],[124,28],
  [0.24,2],[0.26,5],[0.29,3],[0.31,8],[0.34,4],[0.37,11],[0.4,6],[0.43,15],[0.47,9],[0.51,18],[0.55,8],[0.59,22],[0.63,12],[0.68,25],[0.73,10],[0.79,20],[0.85,12],[0.91,28],[0.98,14],[1.05,24],[1.14,6],[1.22,18],[1.31,30],[1.41,12],[1.52,25],[1.63,18],[1.75,32],[1.88,16],[2,28],[2.2,12],[2.4,30],[2.6,20],[2.8,8],[3,25],[3.25,15],[3.55,32],[3.85,22],[4.15,12],[4.5,28],[4.9,18],[5.35,38],[5.8,14],[6.3,28],[6.9,22],[7.5,12],[8.1,30],[8.9,18],[9.7,40],[10.5,28],[11.5,18],[12.5,36],[13.6,22],[14.8,30],[16.2,18],[17.7,36],[19.3,28],[21,38],[23,22],[25,35],[27,18],[29.5,30],[32,38],[35,26],[38.5,32],[42,20],[46,35],[50,26],[55,38],[60,22],[66,30],[72,40],[78,28],[85,35],[93,22],[100,35],[110,30],[118,35],
  [0.27,4],[0.32,5],[0.35,3],[0.38,7],[0.41,9],[0.44,6],[0.48,12],[0.52,10],[0.56,16],[0.6,14],[0.65,8],[0.7,18],[0.75,12],[0.8,22],[0.86,16],[0.93,10],[1,20],[1.08,14],[1.16,26],[1.25,16],[1.34,24],[1.44,20],[1.55,12],[1.66,26],[1.78,20],[1.92,30],[2.05,22],[2.25,15],[2.45,24],[2.65,32],[2.85,22],[3.05,30],[3.3,25],[3.6,18],[3.9,30],[4.25,25],[4.6,20],[5,30],[5.45,22],[5.9,32],[6.45,25],[7,28],[7.7,32],[8.3,22],[9,28],[9.9,32],[10.8,35],[11.8,25],[12.8,32],[14,28],[15.2,35],[16.6,28],[18.1,40],[19.8,30],[21.6,32],[23.6,40],[25.8,30],[28.2,42],[30.8,30],[33.6,36],[36.6,42],[40,30],[43.7,38],[47.7,30],[52,40],[56.8,32],[62,36],[67.7,28],[74,32],[80.8,28],[88,36],[96,30],[104,28],[114,35]];

const facetData = [wheat, rice, otherCereals, sugar, oilCrops, otherCrops, vegFruit, animal, milk, fish];

// free y scales
const yLimits = [[-10.5,217],[-9.5,248],[-7,183],[-6.4,154.5],[-8,168],[-1.5,30.3],[-40,824],[-8,172],[-13,342],[-6,157]];
const yTicks = [[0,50,100,150,200],[0,50,100,150,200],[0,50,100,150],[0,50,100,150],[0,50,100,150],
  [0,10,20],[0,200,400,600,800],[0,50,100,150],[0,100,200,300],[0,50,100,150]];
const xLimits = [0.176, 148];
const xTicks = [1, 10, 100];

// layout
const colX = [56, 236, 417, 597];
const panelW = 155;
const stripTop = [7, 137, 267];
const panelTop = [23, 152, 279];
const panelBottom = [131, 260, 388];
const bottomPanels = [6, 7, 8, 9]; // panels carrying the x axis

const borderCol = "#a8a8a8";
const textCol = "#6b6b6b";

const svg = d3.select('#chart');
svg.append('rect').attr('width', 747).attr('height', 430).attr('fill', '#fff');

const x = d3.scaleLog().domain(xLimits).range([0, panelW]);

facetData.forEach((pts, i) => {
    const col = i % 4, row = Math.floor(i / 4);
    const h = panelBottom[row] - panelTop[row];
    const y = d3.scaleLinear().domain(yLimits[i]).range([h, 0]);

    const g = svg.append('g')
        .attr('transform', `translate(${colX[col]},${panelTop[row]})`);

    // strip
    const sh = panelTop[row] - stripTop[row];
    g.append('rect')
        .attr('x', 0.5).attr('y', -sh + 0.5)
        .attr('width', panelW - 1).attr('height', sh - 1)
        .attr('fill', '#fff').attr('stroke', borderCol);
    g.append('text')
        .attr('x', panelW / 2).attr('y', -sh / 2)
        .attr('dy', '0.35em')
        .attr('text-anchor', 'middle')
        .attr('font-size', '8.5px').attr('font-weight', 'bold')
        .attr('fill', '#1a1a1a')
        .text(facetNames[i]);

    // points
    g.append('g').selectAll('circle')
        .data(pts)
        .enter().append('circle')
            .attr('cx', d => x(d[0]))
            .attr('cy', d => y(d[1]))
            .attr('r', 2.3)
            .attr('fill', '#000');

    // panel border
    g.append('rect')
        .attr('x', 0.5).attr('y', 0.5)
        .attr('width', panelW - 1).attr('height', h - 1)
        .attr('fill', 'none').attr('stroke', borderCol);

    // y axis
    const ya = g.append('g')
        .call(d3.axisLeft(y).tickValues(yTicks[i]).tickSize(3).tickPadding(2));
    ya.select('.domain').remove();
    ya.selectAll('line').attr('stroke', '#8a8a8a');
    ya.selectAll('text').attr('fill', textCol).attr('font-size', '10px')
        .attr('font-family', '"Liberation Sans", Arial, sans-serif');

    if (bottomPanels.includes(i)) {
        const xa = g.append('g')
            .attr('transform', `translate(0,${h})`)
            .call(d3.axisBottom(x).tickValues(xTicks).tickFormat(d3.format('d')).tickSize(3).tickPadding(2));
        xa.select('.domain').remove();
        xa.selectAll('line').attr('stroke', '#8a8a8a');
        xa.selectAll('text').attr('fill', textCol).attr('font-size', '10px')
            .attr('font-family', '"Liberation Sans", Arial, sans-serif');
    }
});

// axis titles
svg.append('text')
    .attr('transform', 'translate(15,185) rotate(-90)')
    .attr('text-anchor', 'middle')
    .attr('font-size', '16px').attr('font-weight', 'bold')
    .attr('fill', '#111')
    .attr('textLength', 345).attr('lengthAdjust', 'spacingAndGlyphs')
    .text('Primary food consumption | kg/person/yr');

svg.append('text')
    .attr('x', 404).attr('y', 424)
    .attr('text-anchor', 'middle')
    .attr('font-size', '15px').attr('font-weight', 'bold')
    .attr('fill', '#111')
    .attr('textLength', 308).attr('lengthAdjust', 'spacingAndGlyphs')
    .text('GDP per capita (log10 scale) | 1000$/person/yr');
</script>
</body>
</html>
